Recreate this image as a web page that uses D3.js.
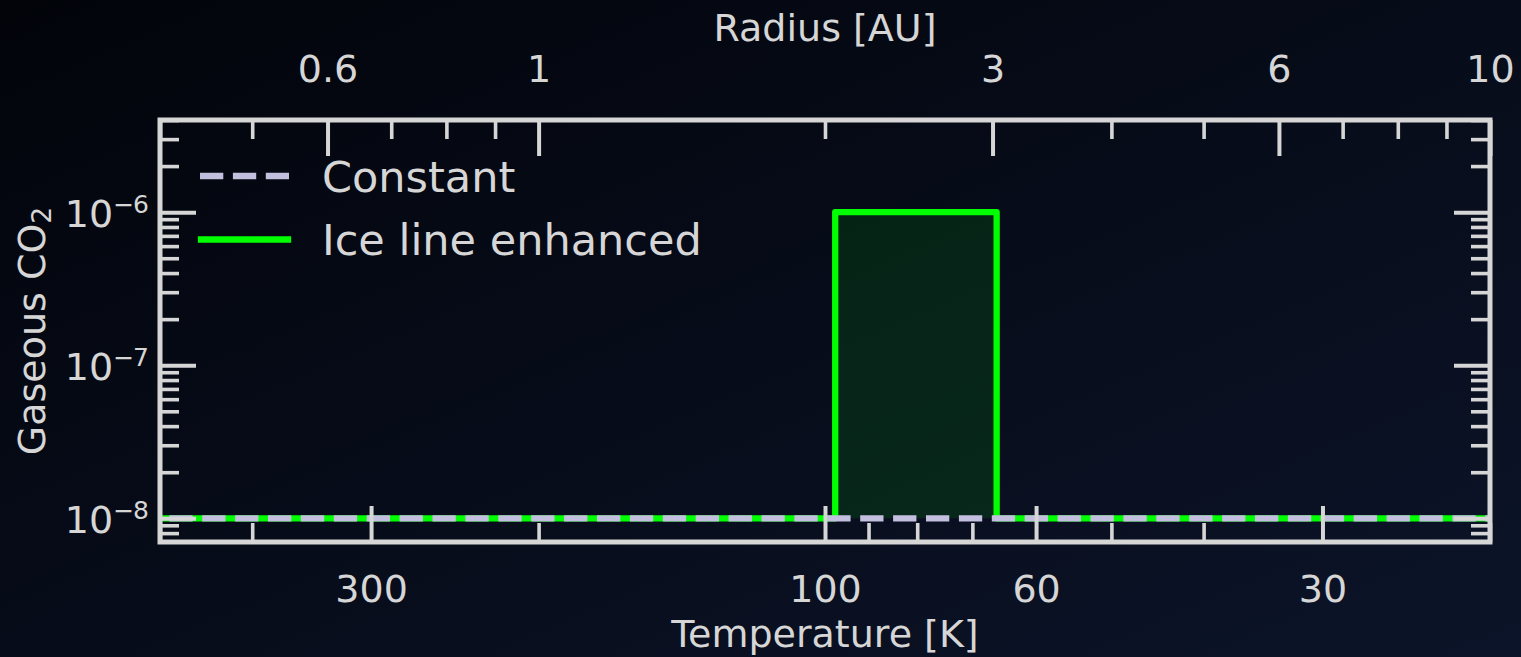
<!DOCTYPE html>
<html>
<head>
<meta charset="utf-8">
<script src="https://cdn.jsdelivr.net/npm/d3@7"></script>
<style>
  html, body { margin: 0; padding: 0; background: #060b17; }
  svg { display: block; }
  text { font-family: "DejaVu Sans", sans-serif; fill: #d6d6d6; }
</style>
</head>
<body>
<svg id="chart" width="1521" height="657"></svg>
<script>
// ---------------- data ----------------
const radiusDomain = [0.4, 10];            // AU (top axis)
const tempDomain = [500, 20];              // K (bottom axis, T = 200 / r)
const yDomain = [7e-9, 4e-6];              // gaseous CO2 abundance

const constantR = [0.4, 10];
const constantV = [1e-8, 1e-8];

const enhancedR = [0.4, 2.05, 2.05, 3.03, 3.03, 10];
const enhancedV = [1e-8, 1e-8, 1e-6, 1e-6, 1e-8, 1e-8];

const fillR = [2.05, 3.03];
const fillLow = [1e-8, 1e-8];
const fillHigh = [1e-6, 1e-6];

const topMajor = [0.6, 1, 3, 6, 10];
const topMajorLabels = ["0.6", "1", "3", "6", "10"];
const topMinor = [0.4, 0.5, 0.7, 0.8, 0.9, 2, 4, 5, 7, 8, 9];

const bottomMajor = [300, 100, 60, 30];
const bottomMajorLabels = ["300", "100", "60", "30"];
const bottomMinor = [500, 400, 200, 90, 80, 70, 50, 40, 20];

const yMajor = [1e-8, 1e-7, 1e-6];
const yMajorExp = ["−8", "−7", "−6"];
const yMinor = [8e-9, 9e-9, 2e-8, 3e-8, 4e-8, 5e-8, 6e-8, 7e-8, 8e-8, 9e-8,
                2e-7, 3e-7, 4e-7, 5e-7, 6e-7, 7e-7, 8e-7, 9e-7, 2e-6, 3e-6, 4e-6];

const seriesNames = ["Constant", "Ice line enhanced"];
const xTitleTop = "Radius [AU]";
const xTitleBottom = "Temperature [K]";

// ---------------- layout ----------------
const W = 1521, H = 657;
const L = 160, R = 1490, T = 120, B = 542;
const axisColor = "#d6d6d6";
const lavender = "#c3bfdf";
const green = "#00ff00";

const svg = d3.select("#chart");
const defs = svg.append("defs");
const grad = defs.append("linearGradient").attr("id", "bg")
  .attr("x1", "0").attr("y1", "0").attr("x2", "1").attr("y2", "1");
grad.append("stop").attr("offset", "0").attr("stop-color", "#02040a");
grad.append("stop").attr("offset", "1").attr("stop-color", "#0c1429");
svg.append("rect").attr("width", W).attr("height", H).attr("fill", "url(#bg)");

defs.append("clipPath").attr("id", "plotclip")
  .append("rect").attr("x", L).attr("y", T).attr("width", R - L).attr("height", B - T);

const x = d3.scaleLog().domain(radiusDomain).range([L, R]);
const xT = d3.scaleLog().domain(tempDomain).range([L, R]);
const y = d3.scaleLog().domain(yDomain).range([B, T]);

const plot = svg.append("g").attr("clip-path", "url(#plotclip)");

// fill
const area = d3.area().x(d => x(d[0])).y0(d => y(d[1])).y1(d => y(d[2]));
plot.append("path")
  .datum(fillR.map((r, i) => [r, fillLow[i], fillHigh[i]]))
  .attr("d", area)
  .attr("fill", green).attr("fill-opacity", 0.1);

const line = d3.line().x(d => x(d[0])).y(d => y(d[1]));

// enhanced line
plot.append("path")
  .datum(enhancedR.map((r, i) => [r, enhancedV[i]]))
  .attr("d", line)
  .attr("fill", "none").attr("stroke", green).attr("stroke-width", 6.3)
  .attr("stroke-linejoin", "round").attr("stroke-linecap", "square");

// constant dashed line
plot.append("path")
  .datum(constantR.map((r, i) => [r, constantV[i]]))
  .attr("d", line)
  .attr("fill", "none").attr("stroke", lavender).attr("stroke-width", 6.3)
  .attr("stroke-dasharray", "23.3 9.6").attr("stroke-dashoffset", 23.6);

// ---------------- axes ----------------
function styleAxis(g, major) {
  g.select(".domain").remove();
  g.selectAll(".tick line").attr("stroke", axisColor).attr("stroke-width", major ? 4 : 3.6);
  g.selectAll(".tick text").attr("fill", axisColor).attr("font-size", 38)
    .attr("font-family", "DejaVu Sans");
}
const MAJ = 36, MIN = 19;

// top axis
svg.append("g").attr("transform", `translate(0,${T})`)
  .call(d3.axisTop(x).tickValues(topMinor).tickFormat("").tickSizeInner(-MIN).tickSizeOuter(0))
  .call(g => styleAxis(g, false));
svg.append("g").attr("transform", `translate(0,${T})`)
  .call(d3.axisTop(x).tickValues(topMajor).tickFormat((d, i) => topMajorLabels[i])
    .tickSizeInner(-MAJ).tickSizeOuter(0).tickPadding(38.5))
  .call(g => styleAxis(g, true));

// bottom axis
svg.append("g").attr("transform", `translate(0,${B})`)
  .call(d3.axisBottom(xT).tickValues(bottomMinor).tickFormat("").tickSizeInner(-MIN).tickSizeOuter(0))
  .call(g => styleAxis(g, false));
svg.append("g").attr("transform", `translate(0,${B})`)
  .call(d3.axisBottom(xT).tickValues(bottomMajor).tickFormat((d, i) => bottomMajorLabels[i])
    .tickSizeInner(-MAJ).tickSizeOuter(0).tickPadding(33))
  .call(g => styleAxis(g, true));

// left axis
svg.append("g").attr("transform", `translate(${L},0)`)
  .call(d3.axisLeft(y).tickValues(yMinor).tickFormat("").tickSizeInner(-MIN).tickSizeOuter(0))
  .call(g => styleAxis(g, false));
const leftMajor = svg.append("g").attr("transform", `translate(${L},0)`)
  .call(d3.axisLeft(y).tickValues(yMajor).tickFormat("").tickSizeInner(-MAJ).tickSizeOuter(0).tickPadding(12))
  .call(g => styleAxis(g, true));
leftMajor.selectAll(".tick text").each(function(d, i) {
  const t = d3.select(this);
  t.text(null).attr("dy", null).attr("y", 14).attr("text-anchor", "end");
  t.append("tspan").text("10");
  t.append("tspan").attr("font-size", 25).attr("dy", -14).attr("letter-spacing", -1).text(yMajorExp[i]);
});

// right axis
svg.append("g").attr("transform", `translate(${R},0)`)
  .call(d3.axisRight(y).tickValues(yMinor).tickFormat("").tickSizeInner(-MIN).tickSizeOuter(0))
  .call(g => styleAxis(g, false));
svg.append("g").attr("transform", `translate(${R},0)`)
  .call(d3.axisRight(y).tickValues(yMajor).tickFormat("").tickSizeInner(-MAJ).tickSizeOuter(0))
  .call(g => styleAxis(g, true));

// frame
svg.append("rect").attr("x", L).attr("y", T).attr("width", R - L).attr("height", B - T)
  .attr("fill", "none").attr("stroke", axisColor).attr("stroke-width", 5);

// axis titles
svg.append("text").attr("x", (L + R) / 2).attr("y", 40.5).attr("text-anchor", "middle")
  .attr("font-size", 38).text(xTitleTop);
svg.append("text").attr("x", (L + R) / 2).attr("y", 647).attr("text-anchor", "middle")
  .attr("font-size", 38).text(xTitleBottom);
const yl = svg.append("text").attr("transform", `translate(45,${(T + B) / 2}) rotate(-90)`)
  .attr("text-anchor", "middle").attr("font-size", 38);
yl.append("tspan").text("Gaseous CO");
yl.append("tspan").attr("font-size", 26.6).attr("dy", 6).text("2");

// legend
const leg = svg.append("g");
leg.append("line").attr("x1", 200).attr("x2", 289).attr("y1", 176).attr("y2", 176)
  .attr("stroke", lavender).attr("stroke-width", 6.3).attr("stroke-dasharray", "23.3 9.6");
leg.append("text").attr("x", 322).attr("y", 192).attr("font-size", 43).text(seriesNames[0]);
leg.append("line").attr("x1", 201).attr("x2", 288).attr("y1", 239.5).attr("y2", 239.5)
  .attr("stroke", green).attr("stroke-width", 6.3).attr("stroke-linecap", "square");
leg.append("text").attr("x", 322).attr("y", 255).attr("font-size", 43).text(seriesNames[1]);
</script>
</body>
</html>
